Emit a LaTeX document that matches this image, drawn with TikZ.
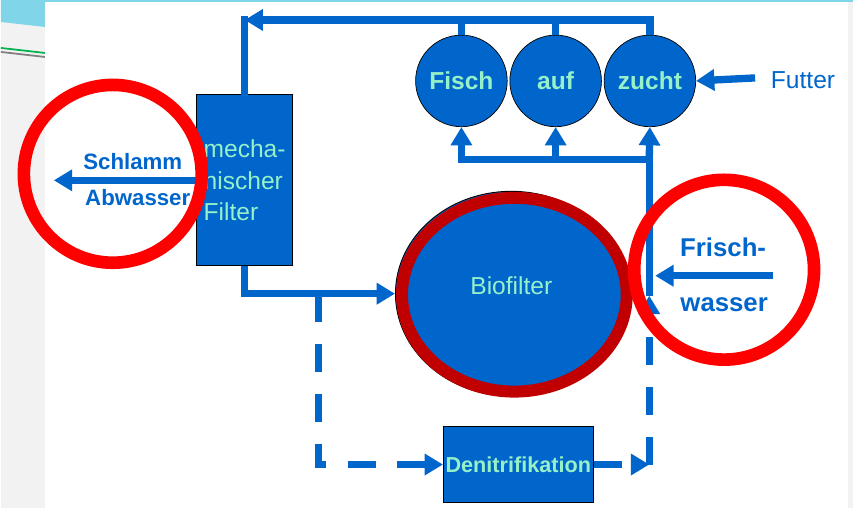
\documentclass[tikz,border=0pt]{standalone}
\usepackage{fontspec}
\setmainfont{Liberation Sans}
\usetikzlibrary{shapes.geometric, arrows.meta}
\definecolor{pipeblue}{RGB}{0,102,204}
\definecolor{labelgreen}{RGB}{150,240,200}
\definecolor{markred}{RGB}{255,0,0}
\definecolor{darkred}{RGB}{192,0,0}
\definecolor{slidecyan}{RGB}{128,214,232}
\tikzstyle{tank} = [circle, minimum size=2.75cm, inner sep=0pt, draw=black, line width=0.6pt, fill=pipeblue, text=labelgreen, font=\bfseries\fontsize{21}{24}\selectfont]
\tikzstyle{unit} = [rectangle, draw=black, line width=0.8pt, fill=pipeblue, text=labelgreen]
\tikzstyle{outlabel} = [text=pipeblue, font=\bfseries\fontsize{19}{22}\selectfont]
\tikzstyle{pipe} = [pipeblue, line width=0.22cm]
\tikzstyle{arrow} = [pipe, -{Triangle[length=0.55cm, width=0.62cm]}]
\tikzstyle{dasharrow} = [arrow, dash pattern=on 0.84cm off 0.66cm]
\tikzstyle{markRing} = [markred, line width=0.38cm]
\begin{document}
\begin{tikzpicture}[x=0.03cm, y=-0.03cm, node distance=2.83cm]

\fill[black!5] (0,0) rectangle (853,509);
\fill[slidecyan] (0,0) -- (853,0) -- (853,2) -- (44,2) -- (44,27) -- (0,22) -- cycle;
\fill[white] (44,2) rectangle (848,509);
\draw[teal!60!green, line width=1.5pt] (0,48) -- (44,53);
\draw[gray, line width=1.5pt] (0,52) -- (44,57);
\useasboundingbox (0,0) rectangle (853,509);

\node (filter) [unit, minimum width=2.88cm, minimum height=5.13cm, align=left, font=\fontsize{21}{27}\selectfont] at (244,180.5) {
mecha-\\nischer\\Filter
};

\node (fisch) [tank] at (461,81) {Fisch};

\node (auf) [tank, right of=fisch] {auf};

\node (zucht) [tank, right of=auf] {zucht};

\node (bio) [ellipse, draw=black, line width=0.8pt, fill=pipeblue, minimum width=6.96cm, minimum height=6.15cm,
  label={[text=labelgreen, font=\fontsize{21}{24}\selectfont, yshift=0.24cm]center:Biofilter}] at (511,294) {};

\node (denit) [unit, minimum width=4.5cm, minimum height=2.28cm, inner sep=0pt, font=\bfseries\fontsize{18.5}{22}\selectfont] at (518,465) {Denitrifikation};

\node (futter) [outlabel, font=\fontsize{21}{24}\selectfont] at (803,80) {Futter};
\node (schlamm) [outlabel] at (132,162) {Schlamm};
\node (abwasser) [outlabel] at (137,198) {Abwasser};
\node (frisch) [outlabel, font=\bfseries\fontsize{22}{26}\selectfont] at (723,248) {Frisch-};
\node (wasser) [outlabel, font=\bfseries\fontsize{22}{26}\selectfont] at (724,305) {wasser};

\coordinate (topLeft) at (244,20);
\coordinate (sludgeEnd) at (53,180.5);
\coordinate (branch) at (318,294);
\coordinate (hub) at (649,160);
\coordinate (joinUp) at (649,296);
\coordinate (corner) at (649,465);
\coordinate (futterStart) at (755,78);
\coordinate (freshStart) at (773,276);
\coordinate (freshEnd) at (655,276);

\draw[pipe] (fisch.north) -- (fisch.north |- topLeft);
\draw[pipe] (auf.north) -- (auf.north |- topLeft);
\draw[arrow] (zucht.north) |- (topLeft);
\draw[pipe, line cap=rect] (topLeft) -- (filter.north);
\draw[arrow] (filter.west) -- (sludgeEnd);
\draw[arrow] (filter.south) |- (bio.west);
\draw[dasharrow] (branch) |- (denit.west);
\draw[dasharrow] (denit.east) -- (corner);
\draw[dasharrow] (corner) -- (joinUp);
\draw[pipe] (joinUp) -- (hub);
\draw[arrow] (hub) -- (zucht.south);
\draw[arrow] (hub) -| (fisch.south);
\draw[arrow] (auf.south |- hub) -- (auf.south);
\draw[arrow] (futterStart) -- (zucht.east);
\draw[arrow] (freshStart) -- (freshEnd);

\draw[darkred, line width=0.36cm] (514,295) ellipse [x radius=112.5, y radius=97];
\draw[markRing] (112,174) circle [radius=89];
\draw[markRing] (724,270) circle [radius=90];

\end{tikzpicture}
\end{document}
